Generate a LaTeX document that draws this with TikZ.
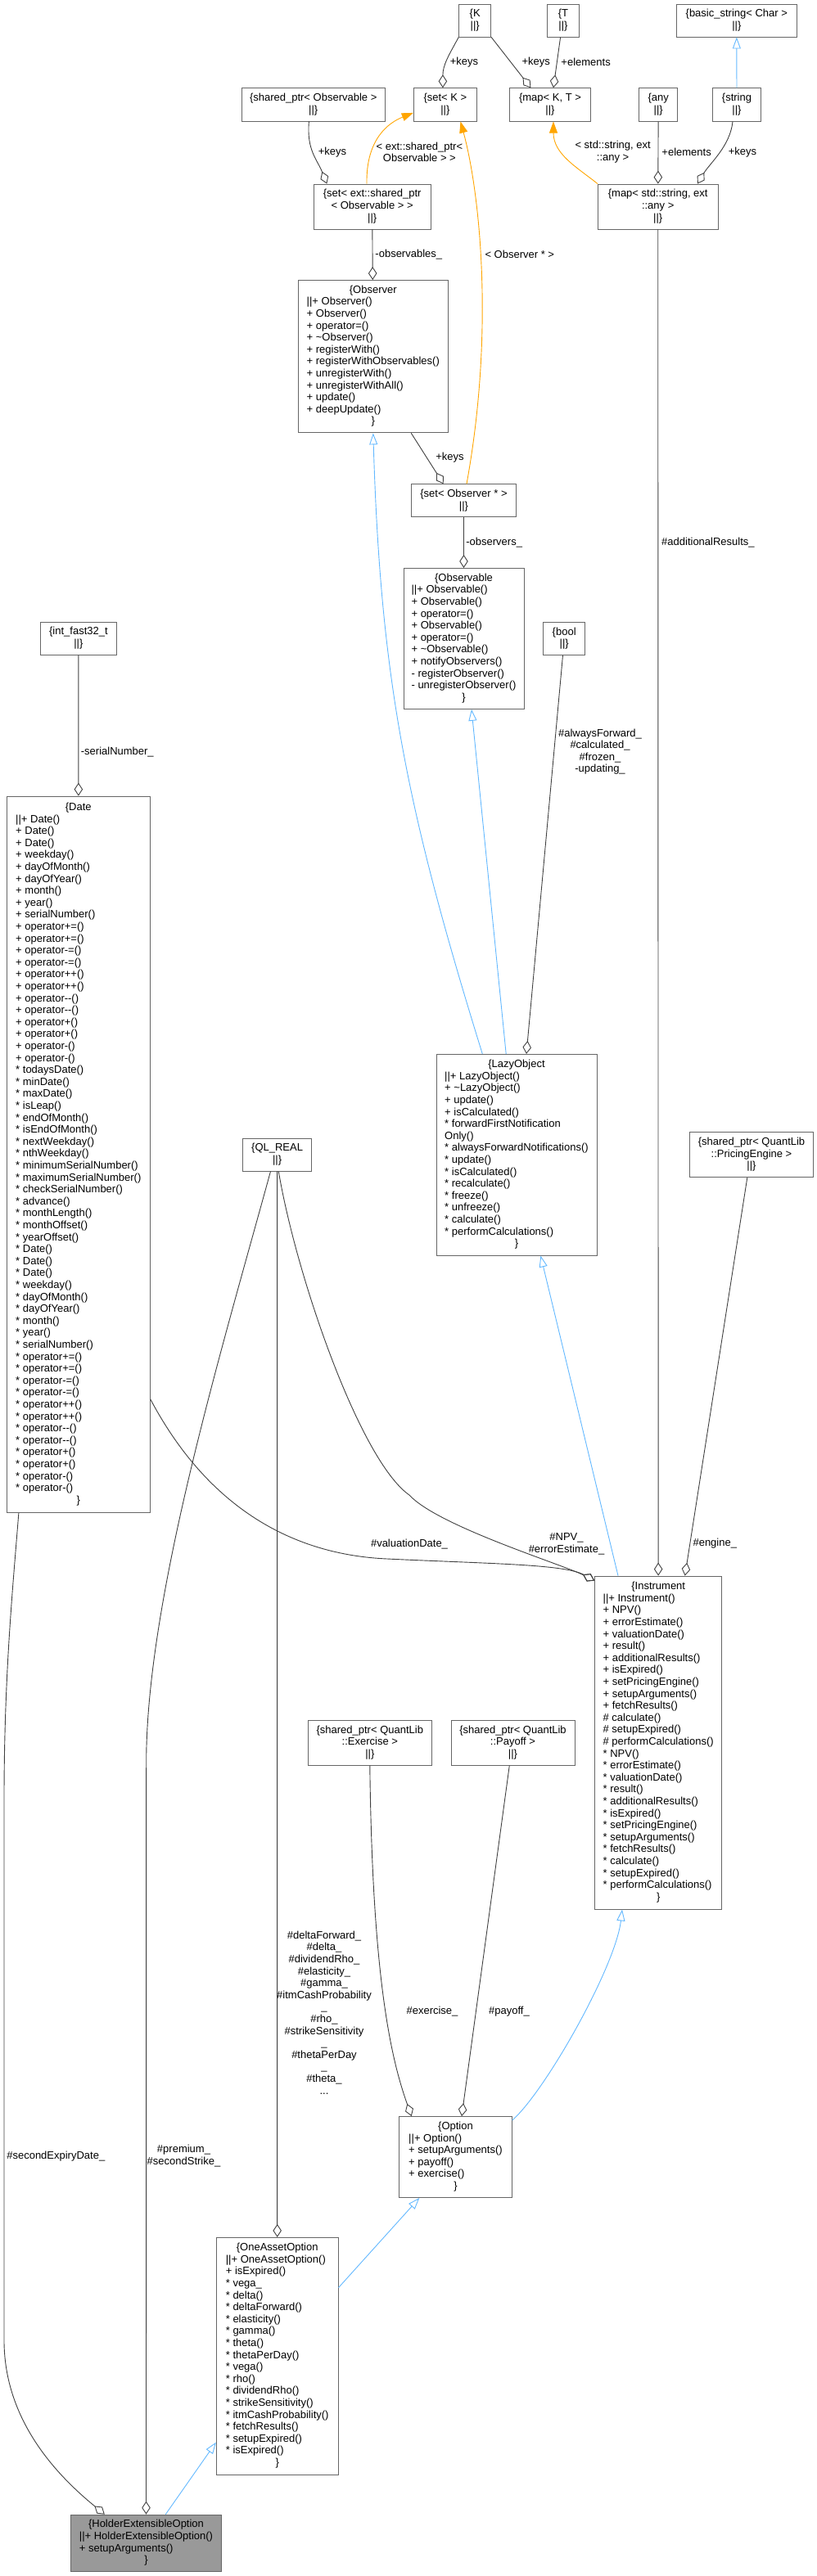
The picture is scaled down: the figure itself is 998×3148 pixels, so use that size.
\documentclass[tikz,border=0pt]{standalone}
\usepackage{fontspec}
\setmainfont{Liberation Sans}
\usetikzlibrary{arrows.meta}

\definecolor{edgegray}{HTML}{404040}
\definecolor{boxgray}{HTML}{666666}
\definecolor{inhblue}{HTML}{63B8FF}
\definecolor{tmplorange}{HTML}{FFA500}
\definecolor{mainfill}{HTML}{999999}

% class record: centred name, left members, centred closing brace
\newcommand{\rec}[2]{\begin{tabular}{@{}l@{}}\multicolumn{1}{@{}c@{}}{\{#1}\\#2\multicolumn{1}{@{}c@{}}{\}}\end{tabular}}
% plain type record
\newcommand{\smp}[1]{\begin{tabular}{@{}c@{}}\{#1\\||\}\end{tabular}}

\begin{document}
\begin{tikzpicture}[
			x=1pt, y=-1pt,
			every node/.style={font=\fontsize{13}{14.6}\selectfont, inner sep=0pt},
			cls/.style={draw=boxgray, line width=0.9pt, fill=white},
			cur/.style={cls, fill=mainfill},
			sz/.style 2 args={minimum width=#1pt, minimum height=#2pt},
			lbl/.style={align=center},
			agg/.style={draw=edgegray, line width=0.9pt, -{Diamond[open, length=16pt, width=10.5pt]}},
			inh/.style={draw=inhblue, line width=0.9pt, -{Triangle[open, length=14pt, width=10pt]}},
			tmpl/.style={draw=tmplorange, line width=0.9pt, -{Triangle[length=14pt, width=10pt]}}
			]
			\useasboundingbox (0,0) rectangle (998,3148);
			
			% Templates at the top
			\node (k) [cls, sz={39}{40}] at (580.2,25) {\smp{K}};
			\node (t) [cls, sz={39}{40}] at (688,25) {\smp{T}};
			\node (basic_str) [cls, sz={147}{40}] at (899.8,25) {\smp{basic\_string< Char >}};
			\node (shptr_obs) [cls, sz={174.7}{40.3}] at (382.7,127.9) {\smp{shared\_ptr< Observable >}};
			\node (set_k) [cls, sz={77.3}{40.3}] at (543.9,127.9) {\smp{set< K >}};
			\node (map_kt) [cls, sz={98.8}{40.3}] at (672,127.9) {\smp{map< K, T >}};
			\node (any) [cls, sz={47.3}{40.3}] at (804.2,127.9) {\smp{any}};
			\node (str) [cls, sz={58.7}{40.3}] at (900,127.9) {\smp{string}};
			\node (set_ext) [cls, sz={143.1}{55}] at (454.7,252.5) {\smp{set< ext::shared\_ptr\\< Observable > >}};
			\node (map_str) [cls, sz={146.5}{55}] at (803.7,252.5) {\smp{map< std::string, ext\\::any >}};
			
			\draw[agg] (k.south west) .. controls +(-12,22) and +(0,-28) .. ([xshift=-3pt]set_k.north);
			\node (l_keys1) [lbl] at (567,76) {+keys};
			\draw[agg] (k.south east) -- ([xshift=-23.6pt]map_kt.north);
			\node (l_keys2) [lbl] at (654.8,76) {+keys};
			\draw[agg] ([xshift=-3.4pt]t.south) -- ([xshift=4pt]map_kt.north);
			\node (l_elem1) [lbl] at (715.6,76) {+elements};
			\draw[inh] (str) -- (basic_str);
			\draw[agg] ([xshift=-5.3pt]shptr_obs.south) .. controls +(-3,35) and +(-12,-30) .. ([xshift=-55.4pt]set_ext.north);
			\node (l_keys3) [lbl] at (406,185.7) {+keys};
			\draw[tmpl] ([xshift=-6.7pt]set_ext.north) .. controls +(-1,-55) and +(-30,12) .. ([yshift=-10pt]set_k.west);
			\node (l_tmpl1) [lbl] at (512.4,185.7) {< ext::shared\_ptr<\\Observable > >};
			\draw[tmpl] (map_str.north west) .. controls +(-25,-20) and +(0,40) .. ([xshift=4pt]map_kt.south);
			\node (l_tmpl2) [lbl] at (748.6,185.7) {< std::string, ext\\::any >};
			\draw[agg] (any) -- (map_str);
			\node (l_elem2) [lbl] at (838.6,185.7) {+elements};
			\draw[agg] ([xshift=-5pt]str.south) .. controls +(-3,30) and +(15,-25) .. ([xshift=48.3pt]map_str.north);
			\node (l_keys4) [lbl] at (907,185.7) {+keys};
			
			% Observer / Observable
			\node (observer) [cls, sz={183}{186.4}] at (455.8,435.7) {\rec{Observer}{||+ Observer()\\+ Observer()\\+ operator=()\\+ \textasciitilde{}Observer()\\+ registerWith()\\+ registerWithObservables()\\+ unregisterWith()\\+ unregisterWithAll()\\+ update()\\+ deepUpdate()\\}};
			\node (set_obsptr) [cls, sz={128.4}{40}] at (566.5,611.8) {\smp{set< Observer * >}};
			\node (observable) [cls, sz={147}{172}] at (566.5,780.4) {\rec{Observable}{||+ Observable()\\+ Observable()\\+ operator=()\\+ Observable()\\+ operator=()\\+ \textasciitilde{}Observable()\\+ notifyObservers()\\- registerObserver()\\- unregisterObserver()\\}};
			\node (bool) [cls, sz={51}{40}] at (689.2,780.4) {\smp{bool}};
			\node (int32) [cls, sz={93.7}{40}] at (95.9,780.2) {\smp{int\_fast32\_t}};
			
			\draw[agg] (set_ext) -- (observer);
			\node (l_obsvs) [lbl] at (499.3,310.7) {-observables\_};
			\draw[tmpl] ([xshift=3.5pt]set_obsptr.north) .. controls +(35,-192) and +(22.5,82) .. ([xshift=18.6pt]set_k.south);
			\node (l_tmpl3) [lbl] at (634.8,310.7) {< Observer * >};
			\draw[agg] ([xshift=46.5pt]observer.south) -- ([xshift=-24.8pt]set_obsptr.north);
			\node (l_keys5) [lbl] at (549.5,559.3) {+keys};
			\draw[agg] (set_obsptr) -- (observable);
			\node (l_obsrs) [lbl] at (603.7,662.9) {-observers\_};
			\node (l_addres) [lbl, anchor=west] at (808,663) {\#additionalResults\_};
			
			% Middle row
			\node (date) [cls, sz={175}{875.7}] at (95.8,1410.9) {\rec{Date}{||+ Date()\\+ Date()\\+ Date()\\+ weekday()\\+ dayOfMonth()\\+ dayOfYear()\\+ month()\\+ year()\\+ serialNumber()\\+ operator+=()\\+ operator+=()\\+ operator-=()\\+ operator-=()\\+ operator++()\\+ operator++()\\+ operator-{}-()\\+ operator-{}-()\\+ operator+()\\+ operator+()\\+ operator-()\\+ operator-()\\{}* todaysDate()\\{}* minDate()\\{}* maxDate()\\{}* isLeap()\\{}* endOfMonth()\\{}* isEndOfMonth()\\{}* nextWeekday()\\{}* nthWeekday()\\{}* minimumSerialNumber()\\{}* maximumSerialNumber()\\{}* checkSerialNumber()\\{}* advance()\\{}* monthLength()\\{}* monthOffset()\\{}* yearOffset()\\{}* Date()\\{}* Date()\\{}* Date()\\{}* weekday()\\{}* dayOfMonth()\\{}* dayOfYear()\\{}* month()\\{}* year()\\{}* serialNumber()\\{}* operator+=()\\{}* operator+=()\\{}* operator-=()\\{}* operator-=()\\{}* operator++()\\{}* operator++()\\{}* operator-{}-()\\{}* operator-{}-()\\{}* operator+()\\{}* operator+()\\{}* operator-()\\{}* operator-()\\}};
			\node (ql_real) [cls, sz={83.8}{40}] at (338.6,1411) {\smp{QL\_REAL}};
			\node (lazy) [cls, sz={196.1}{245.7}] at (631,1411.2) {\rec{LazyObject}{||+ LazyObject()\\+ \textasciitilde{}LazyObject()\\+ update()\\+ isCalculated()\\{}* forwardFirstNotification\\Only()\\{}* alwaysForwardNotifications()\\{}* update()\\{}* isCalculated()\\{}* recalculate()\\{}* freeze()\\{}* unfreeze()\\{}* calculate()\\{}* performCalculations()\\}};
			\node (pe) [cls, sz={151.4}{55}] at (918,1411.2) {\smp{shared\_ptr< QuantLib\\::PricingEngine >}};
			
			\draw[agg] (int32) -- (date);
			\node (l_serial) [lbl] at (143.3,918.6) {-serialNumber\_};
			\draw[inh] ([xshift=-12.8pt]lazy.north) -- ([xshift=9.5pt]observable.south);
			\draw[inh] ([xshift=-41.7pt]lazy.north) .. controls +(-93,-300) and +(9,300) .. (observer.south);
			\draw[agg] ([xshift=-1.7pt]bool.south) -- ([xshift=12pt]lazy.north);
			\node (l_flags) [lbl] at (733,918.7) {\#alwaysForward\_\\\#calculated\_\\\#frozen\_\\-updating\_};
			
			% Instrument row
			\node (instrument) [cls, sz={155}{407}] at (804.2,2129.5) {\rec{Instrument}{||+ Instrument()\\+ NPV()\\+ errorEstimate()\\+ valuationDate()\\+ result()\\+ additionalResults()\\+ isExpired()\\+ setPricingEngine()\\+ setupArguments()\\+ fetchResults()\\\# calculate()\\\# setupExpired()\\\# performCalculations()\\{}* NPV()\\{}* errorEstimate()\\{}* valuationDate()\\{}* result()\\{}* additionalResults()\\{}* isExpired()\\{}* setPricingEngine()\\{}* setupArguments()\\{}* fetchResults()\\{}* calculate()\\{}* setupExpired()\\{}* performCalculations()\\}};
			\node (exercise) [cls, sz={151}{54.7}] at (451.8,2129.7) {\smp{shared\_ptr< QuantLib\\::Exercise >}};
			\node (payoff) [cls, sz={151}{54.7}] at (626.5,2129.7) {\smp{shared\_ptr< QuantLib\\::Payoff >}};
			
			\draw[agg] (map_str) -- (instrument);
			\draw[agg] ([xshift=-5.2pt]pe.south) -- ([xshift=32.5pt]instrument.north);
			\node (l_engine) [lbl] at (873.3,1886) {\#engine\_};
			\draw[inh] ([xshift=-49.2pt]instrument.north) -- ([xshift=29.4pt]lazy.south);
			\draw[agg] ([yshift=-299pt]date.east) .. controls +(71.7,135) and +(-113,-5) .. (473,1905) .. controls +(127,6) and +(-36.7,-20) .. ([yshift=-6pt]instrument.north west);
			\node (l_valdate) [lbl] at (500,1886.7) {\#valuationDate\_};
			\draw[agg] ([xshift=1.7pt]ql_real.south) .. controls +(21.7,129) and +(-60,-42) .. (500,1827) .. controls +(35,38) and +(-40,-20) .. ([yshift=-6pt]instrument.north west);
			\node (l_npv) [lbl] at (692,1886.7) {\#NPV\_\\\#errorEstimate\_};
			
			% Options
			\node (option) [cls, sz={137.6}{99}] at (556.5,2636) {\rec{Option}{||+ Option()\\+ setupArguments()\\+ payoff()\\+ exercise()\\}};
			\node (one_asset) [cls, sz={148.7}{289.7}] at (338.7,2879.2) {\rec{OneAssetOption}{||+ OneAssetOption()\\+ isExpired()\\{}* vega\_\\{}* delta()\\{}* deltaForward()\\{}* elasticity()\\{}* gamma()\\{}* theta()\\{}* thetaPerDay()\\{}* vega()\\{}* rho()\\{}* dividendRho()\\{}* strikeSensitivity()\\{}* itmCashProbability()\\{}* fetchResults()\\{}* setupExpired()\\{}* isExpired()\\}};
			\node (holder) [cur, sz={184.4}{69.7}] at (178.5,3107.9) {\rec{HolderExtensibleOption}{||+ HolderExtensibleOption()\\+ setupArguments()\\}};
			
			\draw[agg] (exercise.south) .. controls +(3,260) and +(-25,-70) .. ([xshift=-53.8pt]option.north);
			\node (l_exer) [lbl] at (528,2458) {\#exercise\_};
			\draw[agg] ([xshift=-4.2pt]payoff.south) -- ([xshift=7.5pt]option.north);
			\node (l_payoff) [lbl] at (622,2458) {\#payoff\_};
			\draw[inh] ([yshift=-5pt]option.north east) .. controls +(40,-35) and +(-8,70) .. ([xshift=-44.2pt]instrument.south);
			\draw[inh] ([yshift=83.6pt]one_asset.east) -- ([xshift=-44.2pt]option.south);
			\draw[inh] ([xshift=23.8pt]holder.north) -- ([yshift=-105.4pt]one_asset.west);
			\draw[agg] (ql_real) -- (one_asset);
			\node (l_greeks) [lbl] at (396,2459.5) {\#deltaForward\_\\\#delta\_\\\#dividendRho\_\\\#elasticity\_\\\#gamma\_\\\#itmCashProbability\\\_\\\#rho\_\\\#strikeSensitivity\hspace*{19pt}\\\_\\\#thetaPerDay\hspace*{36pt}\\\_\\\#theta\_\\...};
			\draw[agg] ([xshift=-8.1pt]ql_real.south) .. controls +(-60,219) and +(1.3,-200) .. (178.7,2150) -- (holder.north);
			\node (l_prem) [lbl] at (224.5,2634.7) {\#premium\_\\\#secondStrike\_};
			\draw[agg] ([xshift=15pt]date.south west) .. controls +(-8,100) and +(0,-150) .. (5,2200) -- (5,2860) .. controls +(0,100) and +(-55,-45) .. ([xshift=42pt]holder.north west);
			\node (l_secexp) [lbl] at (68.3,2635) {\#secondExpiryDate\_};
		\end{tikzpicture}
\end{document}
